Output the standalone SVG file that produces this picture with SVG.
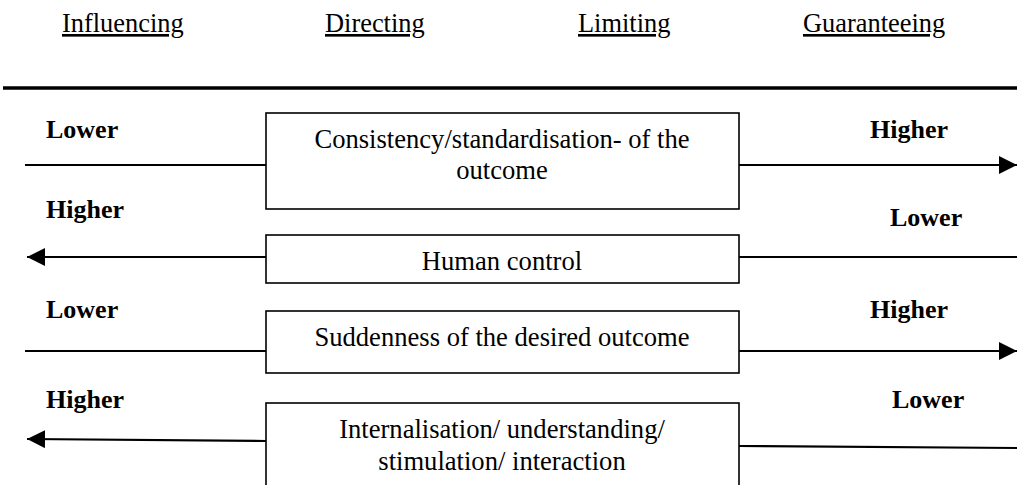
<svg xmlns="http://www.w3.org/2000/svg" width="1017" height="485" viewBox="0 0 1017 485">
<style>
.hdr{font-family:"Liberation Serif","Times New Roman",serif;font-size:26.4px;fill:#000;text-decoration:underline}
.lbl{font-family:"Liberation Serif","Times New Roman",serif;font-size:26px;font-weight:bold;fill:#000}
.box{fill:#fff;stroke:#000;stroke-width:1.6}
.bt{font-family:"Liberation Serif","Times New Roman",serif;font-size:26.6px;fill:#000;text-anchor:middle}
.ln{stroke:#000;stroke-width:2.2;fill:none}
</style>
<defs>
<marker id="ah" markerUnits="userSpaceOnUse" markerWidth="18" markerHeight="18" viewBox="0 0 16 16" refX="16" refY="8" orient="auto">
<path d="M0,0 L16,8 L0,16 Z" fill="#000"/>
</marker>
</defs>
<rect width="1017" height="485" fill="#fff"/>
<g id="headers">
<text class="hdr" x="62" y="32">Influencing</text>
<text class="hdr" x="325" y="32">Directing</text>
<text class="hdr" x="578" y="32">Limiting</text>
<text class="hdr" x="803" y="32">Guaranteeing</text>
</g>
<g id="connectors">
<line x1="3" y1="88" x2="1017" y2="88" stroke="#000" stroke-width="3.5"/>
<line class="ln" x1="25" y1="165" x2="266" y2="165"/>
<line class="ln" x1="739" y1="165" x2="1017" y2="165" marker-end="url(#ah)"/>
<line class="ln" x1="266" y1="257" x2="27" y2="257" marker-end="url(#ah)"/>
<line class="ln" x1="739" y1="257" x2="1017" y2="257"/>
<line class="ln" x1="25" y1="351" x2="266" y2="351"/>
<line class="ln" x1="739" y1="351" x2="1017" y2="351" marker-end="url(#ah)"/>
<line class="ln" x1="266" y1="441" x2="27" y2="439" marker-end="url(#ah)"/>
<line class="ln" x1="739" y1="446" x2="1017" y2="448"/>
</g>
<g id="labels">
<text class="lbl" x="46" y="138">Lower</text>
<text class="lbl" x="870" y="138">Higher</text>
<text class="lbl" x="46" y="218">Higher</text>
<text class="lbl" x="890" y="226">Lower</text>
<text class="lbl" x="46" y="318">Lower</text>
<text class="lbl" x="870" y="318">Higher</text>
<text class="lbl" x="46" y="408">Higher</text>
<text class="lbl" x="892" y="408">Lower</text>
</g>
<g id="node-consistency">
<rect class="box" x="266" y="113" width="473" height="96"/>
<text class="bt" x="502" y="148">Consistency/standardisation- of the</text>
<text class="bt" x="502" y="179">outcome</text>
</g>
<g id="node-human-control">
<rect class="box" x="266" y="235" width="473" height="48"/>
<text class="bt" x="502" y="270">Human control</text>
</g>
<g id="node-suddenness">
<rect class="box" x="266" y="311" width="473" height="62"/>
<text class="bt" x="502" y="346">Suddenness of the desired outcome</text>
</g>
<g id="node-internalisation">
<rect class="box" x="266" y="403" width="473" height="90"/>
<text class="bt" x="502" y="438">Internalisation/ understanding/</text>
<text class="bt" x="502" y="470">stimulation/ interaction</text>
</g>
</svg>
